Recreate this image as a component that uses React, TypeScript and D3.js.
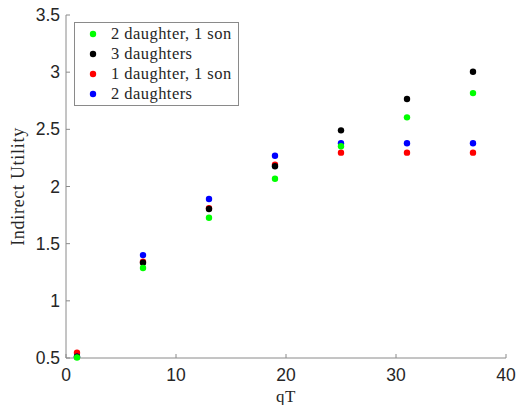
import React from "react";
import * as d3 from "d3";

const qT = [1, 7, 13, 19, 25, 31, 37];
const seriesNames = ["2 daughter, 1 son", "3 daughters", "1 daughter, 1 son", "2 daughters"];
const seriesColors = ["#00ff00", "#000000", "#ff0000", "#0000ff"];
const green = [0.505, 1.287, 1.727, 2.068, 2.352, 2.605, 2.817];
const black = [0.512, 1.333, 1.803, 2.177, 2.491, 2.765, 3.004];
const red = [0.546, 1.342, 1.81, 2.19, 2.296, 2.296, 2.296];
const blue = [0.512, 1.40, 1.891, 2.269, 2.378, 2.378, 2.378];
const xTicks = [0, 10, 20, 30, 40];
const yTicks = [0.5, 1, 1.5, 2, 2.5, 3, 3.5];

const W = 517;
const H = 405;
const left = 66;
const right = 506;
const top = 15;
const bottom = 358;

export default function App() {
  const x = d3.scaleLinear().domain([0, 40]).range([left, right]);
  const y = d3.scaleLinear().domain([0.5, 3.5]).range([bottom, top]);
  const allSeries = [green, black, red, blue];
  // draw order: red, blue, black, green (green on top)
  const drawOrder = [2, 3, 1, 0];
  const axisColor = "#8a8a8a";
  const tickFont = "'Liberation Sans', Arial, sans-serif";
  const serif = "'Liberation Serif', 'Times New Roman', serif";
  return (
    <svg
      width={W}
      height={H}
      style={{ position: "absolute", left: 0, top: 0, background: "#fff" }}
    >
      <rect x={0} y={0} width={W} height={H} fill="#fff" />
      {/* axes */}
      <line x1={left} x2={right} y1={bottom} y2={bottom} stroke={axisColor} strokeWidth={1} />
      <line x1={left} x2={left} y1={top} y2={bottom} stroke={axisColor} strokeWidth={1} />
      {xTicks.map((t) => (
        <g key={"xt" + t}>
          <line x1={x(t)} x2={x(t)} y1={bottom} y2={bottom - 4} stroke={axisColor} />
          <text
            x={x(t)}
            y={381}
            textAnchor="middle"
            fontFamily={tickFont}
            fontSize={17.5}
            fill="#262626"
          >
            {t}
          </text>
        </g>
      ))}
      {yTicks.map((t) => (
        <g key={"yt" + t}>
          <line x1={left} x2={left + 4} y1={y(t)} y2={y(t)} stroke={axisColor} />
          <text
            x={60}
            y={y(t) + 6}
            textAnchor="end"
            fontFamily={tickFont}
            fontSize={17.5}
            fill="#262626"
          >
            {t}
          </text>
        </g>
      ))}
      {/* axis labels */}
      <text
        x={(left + right) / 2}
        y={401.5}
        textAnchor="middle"
        fontFamily={serif}
        fontSize={17}
        letterSpacing={0.5}
        fill="#262626"
      >
        qT
      </text>
      <text
        transform={`translate(24, ${(top + bottom) / 2}) rotate(-90)`}
        textAnchor="middle"
        fontFamily={serif}
        fontSize={18}
        letterSpacing={0.7}
        fill="#262626"
      >
        Indirect Utility
      </text>
      {/* points */}
      {drawOrder.map((si) => (
        <g key={"s" + si}>
          {allSeries[si].map((v, i) => (
            <circle key={i} cx={x(qT[i])} cy={y(v)} r={3.2} fill={seriesColors[si]} />
          ))}
        </g>
      ))}
      {/* legend */}
      <rect x={74.5} y={22.5} width={164} height={83} fill="#fff" stroke={axisColor} strokeWidth={1} />
      {seriesNames.map((name, i) => (
        <g key={"lg" + i}>
          <circle cx={93} cy={34 + i * 20} r={3.2} fill={seriesColors[i]} />
          <text
            x={111}
            y={34 + i * 20 + 5}
            fontFamily={serif}
            fontSize={16.5}
            letterSpacing={0.45}
            fill="#262626"
          >
            {name}
          </text>
        </g>
      ))}
    </svg>
  );
}
